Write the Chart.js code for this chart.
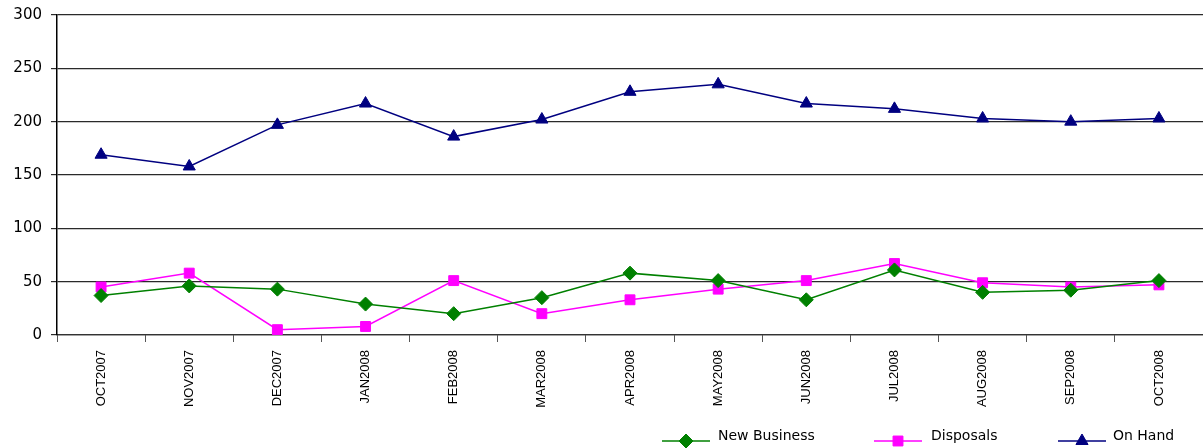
<!DOCTYPE html>
<html>
<head>
<meta charset="utf-8">
<script src="https://cdn.jsdelivr.net/npm/chart.js@4/dist/chart.umd.min.js"></script>
<style>
  html, body { margin: 0; padding: 0; background: #fff; }
  #wrap { width: 1203px; height: 448px; position: relative; }
</style>
</head>
<body>
<div id="wrap"><canvas id="chart"></canvas></div>
<script>
// Months on the x axis
const months = ['OCT2007', 'NOV2007', 'DEC2007', 'JAN2008', 'FEB2008', 'MAR2008', 'APR2008',
  'MAY2008', 'JUN2008', 'JUL2008', 'AUG2008', 'SEP2008', 'OCT2008'];

// Series values
const newBusiness = [37, 46, 43, 29, 20, 35, 58, 51, 33, 61, 40, 42, 51];
const disposals = [45, 58, 5, 8, 51, 20, 33, 43, 51, 67, 49, 45, 47];
const onHand = [169, 158, 197, 217, 186, 202, 228, 235, 217, 212, 203, 200, 203];

const yTicks = [0, 50, 100, 150, 200, 250, 300];

const FONT = '"Liberation Sans", Arial, sans-serif';
const WIDE = '"DejaVu Sans", Verdana, sans-serif';

// Excel-style legend: short line with the marker on it, then the label
const legendPlugin = {
  id: 'excelLegend',
  afterDraw(chart) {
    const ctx = chart.ctx;
    const spots = [
      { x1: 662, x2: 710, text: 718 },
      { x1: 874, x2: 922, text: 931 },
      { x1: 1058, x2: 1106, text: 1113 }
    ];
    const y = 441;
    chart.data.datasets.forEach((ds, i) => {
      const s = spots[i];
      ctx.save();
      ctx.strokeStyle = ds.borderColor;
      ctx.fillStyle = ds.borderColor;
      ctx.lineWidth = 1.5;
      ctx.beginPath();
      ctx.moveTo(s.x1, y);
      ctx.lineTo(s.x2, y);
      ctx.stroke();
      ctx.lineWidth = 1;
      Chart.helpers.drawPoint(ctx, {
        pointStyle: ds.pointStyle,
        radius: ds.pointRadius,
        borderWidth: 1
      }, (s.x1 + s.x2) / 2, y);
      ctx.fillStyle = '#000';
      ctx.font = '14px ' + WIDE;
      ctx.textBaseline = 'middle';
      ctx.fillText(ds.label, s.text, 436);
      ctx.restore();
    });
  }
};

function series(label, data, color, style, radius) {
  return {
    label: label,
    data: data,
    borderColor: color,
    backgroundColor: color,
    borderWidth: 1.5,
    pointStyle: style,
    pointRadius: radius,
    pointHoverRadius: radius,
    pointBorderWidth: 1,
    tension: 0,
    fill: false
  };
}

new Chart(document.getElementById('chart'), {
  type: 'line',
  data: {
    labels: months,
    datasets: [
      series('New Business', newBusiness, '#008000', 'rectRot', 7),
      series('Disposals', disposals, '#FF00FF', 'rect', 7),
      series('On Hand', onHand, '#000080', 'triangle', 7)
    ]
  },
  options: {
    responsive: true,
    maintainAspectRatio: false,
    animation: false,
    layout: { autoPadding: false, padding: { top: 15, right: 0, bottom: 30, left: 0 } },
    plugins: {
      legend: { display: false },
      tooltip: { enabled: false }
    },
    scales: {
      x: {
        offset: true,
        afterFit(scale) {
          scale.height = 83;
          scale.paddingRight = 0;
          scale.paddingLeft = 0;
        },
        grid: {
          offset: true,
          drawOnChartArea: false,
          drawTicks: true,
          tickLength: 7,
          color: '#555'
        },
        border: { display: true, color: '#333', width: 1.2 },
        ticks: {
          minRotation: 90,
          maxRotation: 90,
          autoSkip: false,
          color: '#000',
          padding: 8,
          font: { family: FONT, size: 13 }
        }
      },
      y: {
        min: 0,
        max: 300,
        afterFit(scale) {
          scale.width = 57;
          scale.paddingTop = 0;
          scale.paddingBottom = 0;
        },
        afterBuildTicks(scale) { scale.ticks = yTicks.map(v => ({ value: v })); },
        grid: {
          color: '#2a2a2a',
          lineWidth: 1.2,
          tickLength: 6
        },
        border: { display: true, color: '#000', width: 1.5 },
        ticks: {
          color: '#000',
          padding: 9,
          font: { family: WIDE, size: 15 }
        }
      }
    }
  },
  plugins: [legendPlugin]
});
</script>
</body>
</html>
